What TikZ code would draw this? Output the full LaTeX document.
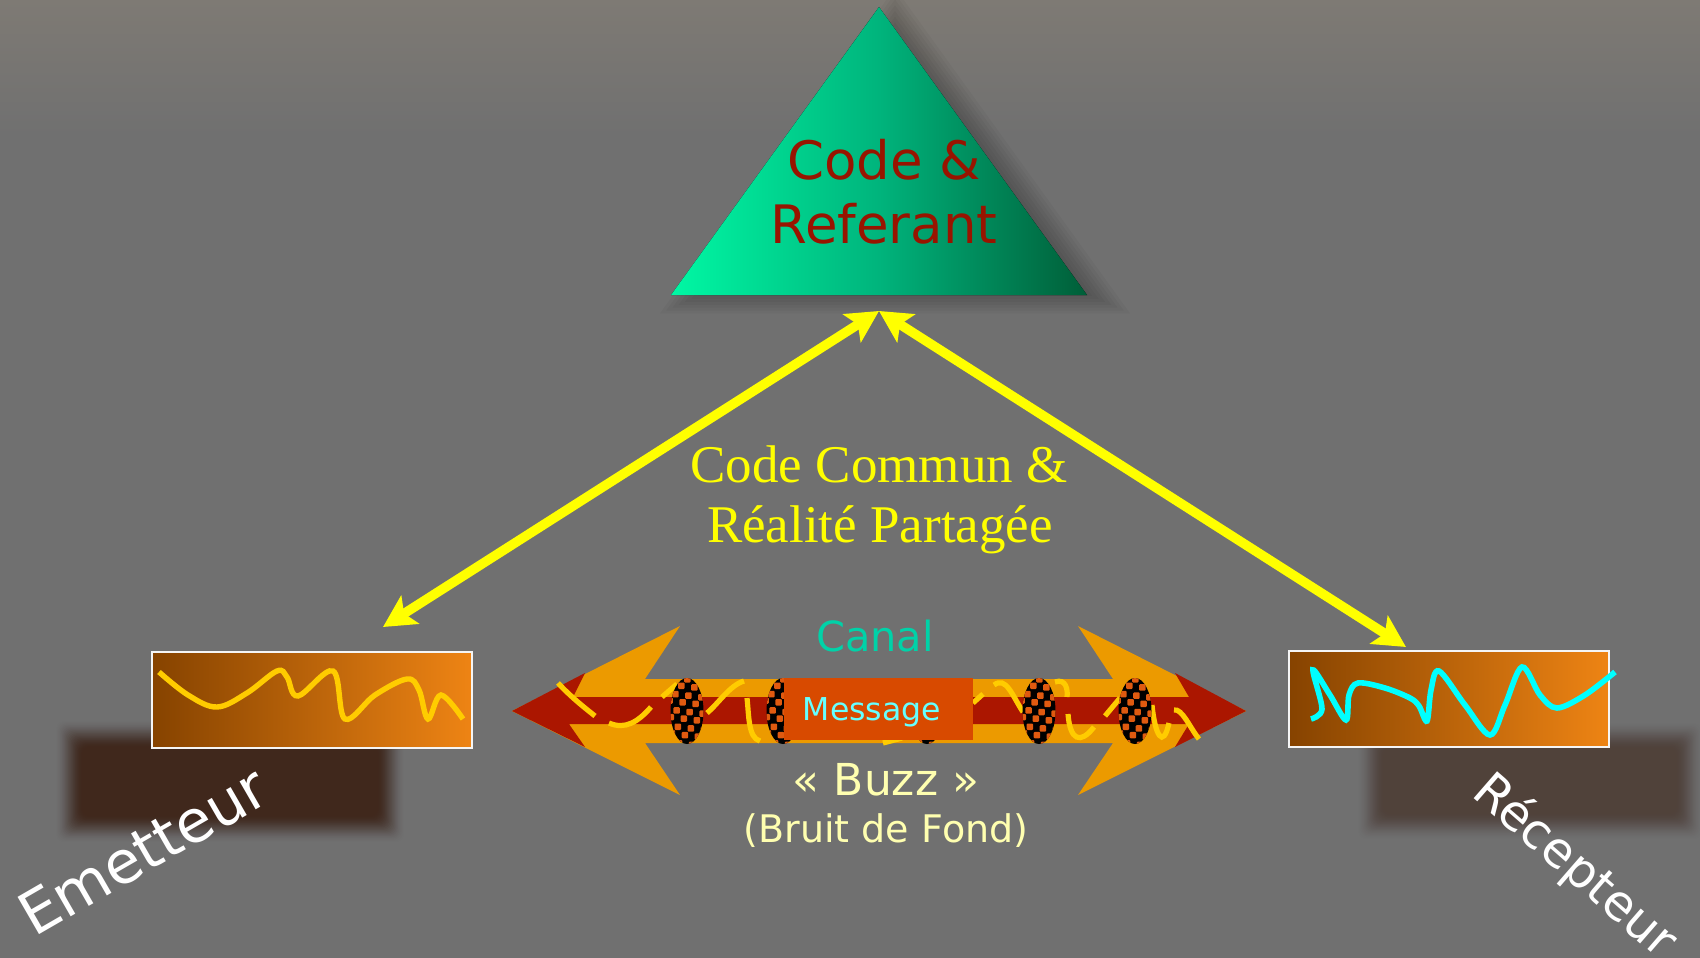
\documentclass[tikz,border=0pt]{standalone}
\usepackage{fontspec}
\setmainfont{DejaVu Sans}
\newfontfamily\timesface{Liberation Serif}
\usetikzlibrary{arrows.meta}
\definecolor{bgmid}{HTML}{707070}
\definecolor{bgtop}{HTML}{7E7A74}
\definecolor{armorange}{HTML}{EC9A00}
\definecolor{armred}{HTML}{AB1600}
\definecolor{wiggle}{HTML}{FFCC00}
\definecolor{speck}{HTML}{E05A10}
\definecolor{msgbox}{HTML}{D84A00}
\definecolor{boxdark}{HTML}{864300}
\definecolor{boxlight}{HTML}{EE8414}
\definecolor{trilight}{HTML}{00F8A4}
\definecolor{trimid}{HTML}{00B47C}
\definecolor{tridark}{HTML}{005E38}
\definecolor{codered}{HTML}{981400}
\definecolor{canalc}{HTML}{00D2A8}
\definecolor{buzzc}{HTML}{FFFFB0}
\definecolor{msgtext}{HTML}{66FFFF}
\definecolor{shadL}{HTML}{40281C}
\definecolor{shadR}{HTML}{50423A}
\definecolor{pureyellow}{RGB}{255,255,0}
\definecolor{purecyan}{RGB}{0,255,255}
\newcommand{\fs}[1]{\fontsize{#1}{#1}\selectfont}
\newcommand{\softrect}[5]{%
  \foreach \i in {1,...,24}{
    \pgfmathsetmacro{\d}{14-(\i-1)*28/23}
    \pgfmathsetmacro{\ua}{(\i-1)/24}
    \pgfmathsetmacro{\ub}{\i/24}
    \pgfmathsetmacro{\ta}{3*\ua*\ua-2*\ua*\ua*\ua}
    \pgfmathsetmacro{\tb}{3*\ub*\ub-2*\ub*\ub*\ub}
    \pgfmathsetmacro{\a}{min(1,(\tb-\ta)/(1-\ta+0.00001))}
    \fill[#5,opacity=\a,rounded corners=8] (#1-\d,#2-\d) rectangle (#3+\d,#4+\d);
  }
}
\newcommand{\speckled}[1]{%
  \begin{scope}
    \clip (#1,711) ellipse [x radius=16.5,y radius=33];
    \fill[black] (#1-17,676) rectangle (#1+17,746);
    \foreach \r in {0,...,8}{
      \foreach \c in {-2,...,2}{
        \pgfmathsetmacro{\px}{#1+\c*13+mod(\r,2)*6.5-3+\r*0.6}
        \pgfmathsetmacro{\py}{676+\r*8.2+\c*1.6}
        \fill[speck,rounded corners=1] (\px,\py) rectangle ++(6.5,6.5);
      }
    }
  \end{scope}
}
\tikzset{
  wavy/.style={wiggle,line width=5.4,smooth,tension=.6},
  wavybit/.style={wiggle,line width=5.2},
  linkarrow/.style={pureyellow,line width=9.5,{Stealth[length=32,width=33,inset=7]}-{Stealth[length=32,width=33,inset=7]}},
  framebox/.style={draw=white!92!gray,line width=2.8,left color=boxdark,right color=boxlight,inner sep=0,minimum width=320,minimum height=96},
}
\begin{document}
\begin{tikzpicture}[x=1pt,y=-1pt]
\useasboundingbox (0,0) rectangle (1700,958);
% background
\fill[bgmid] (0,0) rectangle (1700,958);
\shade[top color=bgtop,bottom color=bgmid] (0,0) rectangle (1700,135);
% soft shadows
\softrect{70}{735}{390}{828}{shadL}
\softrect{1372}{737}{1688}{825}{shadR}
\foreach \k in {-.14,-.11,...,.14}{
  \fill[black,opacity=.03,shift={(879+16,199+6)},scale=1+\k] (0,-192) -- (-208,96) -- (208,96) -- cycle;
}
% triangle
\coordinate (apex) at (879,311);
\coordinate (leftend) at (383,627);
\coordinate (rightend) at (1406,647);
\fill[left color=trilight,right color=tridark,middle color=trimid] (879,7) -- (671,295) -- (1087,295) -- cycle;
\node[codered,font=\fs{53},anchor=base] (codeA) at (884,179) {Code \&};
\node[codered,font=\fs{53},anchor=base] (codeB) at (884,243) {Referant};
% link arrows
\draw[linkarrow] (leftend) -- (apex);
\draw[linkarrow] (apex) -- (rightend);
\node[pureyellow,font=\timesface\fs{53},anchor=base] (common) at (879,482) {Code Commun \&};
\node[pureyellow,font=\timesface\fs{53},anchor=base] (shared) at (880,542) {Réalité Partagée};
% boxes
\node[framebox] (sender) at (312,700) {};
\node[framebox] (receiver) at (1449,699) {};
\draw[wavy] plot coordinates {(159,672) (188,695) (217,707) (247,693) (277,671) (287,677) (298,696) (333,671) (345,719) (375,695) (407,679) (419,690) (428,719) (441,695) (463,719)};
\draw[purecyan,line width=5.6,smooth,tension=.55] plot coordinates {(1311,719) (1322,709) (1313,670) (1330,695) (1346,720) (1349,695) (1358,683) (1385,688) (1410,698) (1419,706) (1427,721) (1431,690) (1439,671) (1465,705) (1490,735) (1505,705) (1522,667) (1540,695) (1557,708) (1585,695) (1615,672)};
% canal arrows
\fill[armorange] (512,711) -- (680,626) -- (645,679) -- (1113,679) -- (1078,626) -- (1246,711) -- (1078,795) -- (1113,743) -- (645,743) -- (680,795) -- cycle;
\fill[armred] (512,711) -- (585,673) -- (573,697) -- (1189,697) -- (1175,673) -- (1246,711) -- (1175,747) -- (1189,724) -- (569,724) -- (585,747) -- cycle;
% wiggle pieces
\draw[wavybit] (558,683) .. controls (572,698) and (585,708) .. (595,716);
\draw[wavybit] (609,723) .. controls (625,730) and (638,722) .. (651,707);
\draw[wavybit] (662,697) -- (677,684);
\draw[wavybit] (707,713) .. controls (718,704) and (730,685) .. (744,681);
\draw[wavybit] (747,698) .. controls (749,715) and (748,738) .. (760,741);
\draw[wavybit] (883,743) -- (902,738);
\draw[wavybit] (973,703) -- (983,694);
\draw[wavybit] (994,685) .. controls (1006,676) and (1012,695) .. (1023,712);
\draw[wavybit] (1055,682) .. controls (1066,678) and (1068,690) .. (1067,697);
\draw[wavybit] (1068,714) .. controls (1070,740) and (1080,745) .. (1094,727);
\draw[wavybit] (1105,716) -- (1120,698);
\draw[wavybit] (1152,705) .. controls (1155,735) and (1163,750) .. (1169,723);
\draw[wavybit] (1174,710) .. controls (1182,708) and (1190,728) .. (1199,739);
% speckled discs
\speckled{687}
\speckled{783}
\speckled{927}
\speckled{1039}
\speckled{1135}
% message
\node[fill=msgbox,minimum width=189,minimum height=62,inner sep=0] (msgrect) at (878,709) {};
\node[msgtext,font=\fs{31.5}] (msg) at (872,712) {Message};
\node[canalc,font=\fs{41.5},anchor=base] (canal) at (875,651) {Canal};
\node[buzzc,font=\fs{44},anchor=base] (buzz) at (886,795) {« Buzz »};
\node[buzzc,font=\fs{38},anchor=base] (fond) at (886,842) {(Bruit de Fond)};
\node[white,font=\fs{59},anchor=base west,rotate=30,inner sep=0] (emit) at (34,938) {Emetteur};
\node[white,font=\fs{49},anchor=base west,rotate=-41,inner sep=0] (recv) at (1470,795) {Récepteur};
\end{tikzpicture}
\end{document}
